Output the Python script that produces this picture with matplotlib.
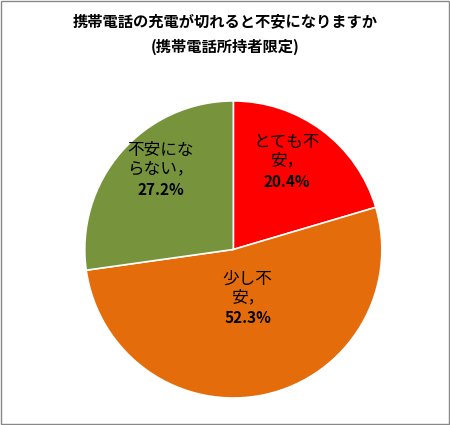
import matplotlib
matplotlib.use("Agg")
import matplotlib.pyplot as plt
import numpy as np

plt.rcParams['font.family'] = ['Noto Sans CJK JP', 'DejaVu Sans']

labels = ["とても不安", "少し不安", "不安にならない"]
values = [20.4, 52.3, 27.2]
colors = ["#FF0000", "#E46C0A", "#77933C"]

fig = plt.figure(figsize=(4.5, 4.25), dpi=100)
fig.patches.append(plt.Rectangle((0.002, 0.002), 0.996, 0.996, transform=fig.transFigure,
                                 fill=False, edgecolor="#888888", linewidth=1))
fig.text(0.5, 0.95, "携帯電話の充電が切れると不安になりますか", ha="center", va="center",
         fontsize=11, fontweight="bold")
fig.text(0.5, 0.89, "(携帯電話所持者限定)", ha="center", va="center",
         fontsize=11, fontweight="bold")

ax = fig.add_axes([0.185, 0.06, 0.667, 0.706])
wedges, _ = ax.pie(values, colors=colors, startangle=90, counterclock=False,
                   wedgeprops=dict(edgecolor="white", linewidth=1.2))
ax.set_xlim(-1.01, 1.01)
ax.set_ylim(-1.01, 1.01)
ax.set_aspect("equal")

label_texts = ["とても不\n安，", "少し不\n安，", "不安にな\nらない，"]
rfac = [0.6, 0.45, 0.65]
for w, lab, v, rf in zip(wedges, label_texts, values, rfac):
    ang = np.deg2rad((w.theta1 + w.theta2) / 2)
    x, y = rf * np.cos(ang), rf * np.sin(ang)
    ax.text(x, y + 0.06, lab, ha="center", va="bottom", fontsize=12, linespacing=1.1)
    ax.text(x, y + 0.03, f"{v}%", ha="center", va="top", fontsize=11, fontweight="bold")

fig.savefig("out.png", dpi=100)
